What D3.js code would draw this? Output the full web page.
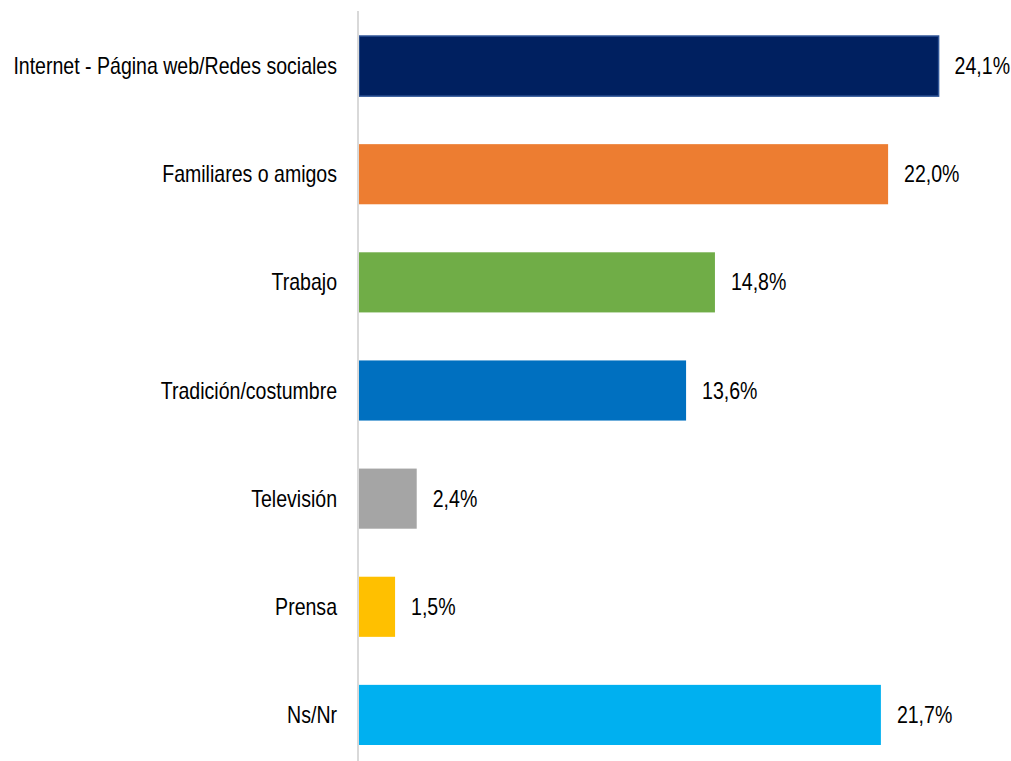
<!DOCTYPE html>
<html>
<head>
<meta charset="utf-8">
<script src="https://cdn.jsdelivr.net/npm/d3@7"></script>
<style>
  body { margin: 0; background: #fff; }
  text { font-family: "Liberation Sans Narrow", "Arial Narrow", "Liberation Sans", sans-serif; }
</style>
</head>
<body>
<svg id="chart" width="1011" height="761"></svg>
<script>
// chart data
var categories = ["Internet - Página web/Redes sociales", "Familiares o amigos", "Trabajo",
                  "Tradición/costumbre", "Televisión", "Prensa", "Ns/Nr"];
var values = [24.1, 22.0, 14.8, 13.6, 2.4, 1.5, 21.7];
var colors = ["#002060", "#ed7d31", "#70ad47", "#0070c0", "#a5a5a5", "#ffc000", "#00b0f0"];

var svg = d3.select("#chart"),
    width = +svg.attr("width"),
    height = +svg.attr("height"),
    x0 = 359,
    narrow = 0.85; // squeeze text horizontally, no narrow font installed

var x = d3.scaleLinear().domain([0, 25]).range([x0, x0 + 25 * 24.05]);

var y = d3.scaleBand()
    .domain(categories)
    .range([12, 769])
    .paddingInner(0.444)
    .paddingOuter(0.222);

// bars
svg.append("g")
  .selectAll("rect")
  .data(values)
  .enter().append("rect")
    .attr("x", x(0))
    .attr("y", function(d, i) { return y(categories[i]); })
    .attr("width", function(d) { return x(d) - x(0); })
    .attr("height", y.bandwidth())
    .attr("fill", function(d, i) { return colors[i]; })
    .attr("stroke", function(d, i) { return i === 0 ? "#2f5597" : "none"; })
    .attr("stroke-width", 1.5);

// vertical axis line
svg.append("line")
    .attr("x1", x0 - 1).attr("x2", x0 - 1)
    .attr("y1", 11).attr("y2", height)
    .attr("stroke", "#d9d9d9")
    .attr("stroke-width", 2);

// category labels
svg.append("g")
  .selectAll("text")
  .data(categories)
  .enter().append("text")
    .attr("transform", function(d) {
        return "translate(" + (x0 - 22) + "," + (y(d) + y.bandwidth() / 2) + ") scale(" + narrow + ",1)";
    })
    .attr("dy", "0.35em")
    .attr("text-anchor", "end")
    .attr("font-size", "23px")
    .attr("fill", "#000")
    .text(function(d) { return d; });

// value labels
svg.append("g")
  .selectAll("text")
  .data(values)
  .enter().append("text")
    .attr("transform", function(d, i) {
        return "translate(" + (x(d) + 16) + "," + (y(categories[i]) + y.bandwidth() / 2) + ") scale(" + narrow + ",1)";
    })
    .attr("dy", "0.35em")
    .attr("font-size", "23px")
    .attr("fill", "#000")
    .text(function(d) { return d.toFixed(1).replace(".", ",") + "%"; });
</script>
</body>
</html>
